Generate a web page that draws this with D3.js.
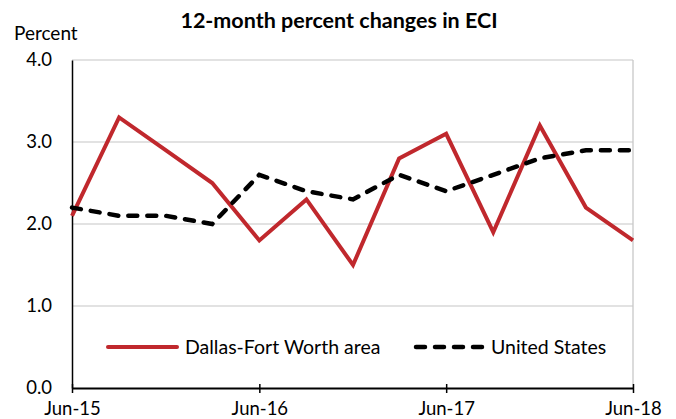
<!DOCTYPE html>
<html>
<head>
<meta charset="utf-8">
<script src="https://cdn.jsdelivr.net/npm/d3@7"></script>
<style>
  body { margin: 0; background: #fff; }
  text { font-family: Lato, "Open Sans", sans-serif; fill: #000; }
</style>
</head>
<body>
<div id="chartDiv"></div>
<script>
var width = 676;
var height = 419;
var margin = { top: 60, right: 43, bottom: 31, left: 72 };

// quarterly, Jun-15 .. Jun-18
var quarters = ["2015-06", "2015-09", "2015-12", "2016-03", "2016-06", "2016-09", "2016-12",
                "2017-03", "2017-06", "2017-09", "2017-12", "2018-03", "2018-06"];
var dallasValues = [2.1, 3.3, 2.9, 2.5, 1.8, 2.3, 1.5, 2.8, 3.1, 1.9, 3.2, 2.2, 1.8];
var usValues     = [2.2, 2.1, 2.1, 2.0, 2.6, 2.4, 2.3, 2.6, 2.4, 2.6, 2.8, 2.9, 2.9];
var xTickLabels = ["2015-06", "2016-06", "2017-06", "2018-06"];
var yTicks = [0, 1, 2, 3, 4];

var seriesNames = ["Dallas-Fort Worth area", "United States"];
var titleText = "12-month percent changes in ECI";
var yAxisLabelHeader = "Percent";

var parseMonth = d3.timeParse("%Y-%m");
var dates = quarters.map(parseMonth);

var chartWidth = width - margin.left - margin.right;
var chartHeight = height - margin.top - margin.bottom;

var x = d3.scaleTime()
    .domain(d3.extent(dates))
    .range([0, chartWidth]);
var y = d3.scaleLinear().domain([0, 4]).range([chartHeight, 0]);

var chart = d3.select("#chartDiv").append("svg")
    .attr("width", width)
    .attr("height", height);

var plot = chart.append("g")
    .attr("transform", "translate(" + margin.left + "," + margin.top + ")");

// gridlines
plot.selectAll(".grid")
    .data(yTicks.filter(function(d) { return d > 0; }))
    .enter().append("line")
    .attr("class", "grid")
    .attr("x1", 0).attr("x2", chartWidth)
    .attr("y1", function(d) { return y(d); })
    .attr("y2", function(d) { return y(d); })
    .style("stroke", "#d9d9d9")
    .style("stroke-width", 1.3);

// right border
plot.append("line")
    .attr("x1", chartWidth).attr("x2", chartWidth)
    .attr("y1", 0).attr("y2", chartHeight)
    .style("stroke", "#c8c8c8")
    .style("stroke-width", 1.3);

// y axis
var yAxis = d3.axisLeft(y)
    .tickValues(yTicks)
    .tickSize(0)
    .tickPadding(20)
    .tickFormat(d3.format(".1f"));
var yAxisG = plot.append("g").call(yAxis);
yAxisG.select(".domain").style("stroke", "#000").style("stroke-width", 1.5);
yAxisG.selectAll("text").style("font-size", "18.5px").attr("font-family", null);

// x axis
var xAxis = d3.axisBottom(x)
    .tickValues(xTickLabels.map(parseMonth))
    .tickSizeInner(6)
    .tickSizeOuter(0)
    .tickPadding(8)
    .tickFormat(d3.timeFormat("%b-%y"));
var xAxisG = plot.append("g")
    .attr("transform", "translate(0," + chartHeight + ")")
    .call(xAxis);
xAxisG.select(".domain").style("stroke", "#000").style("stroke-width", 2);
xAxisG.selectAll(".tick line")
    .attr("y1", -4)
    .attr("y2", 5)
    .style("stroke", "#000")
    .style("stroke-width", 1.5);
xAxisG.selectAll("text").style("font-size", "18.5px").attr("font-family", null);

// lines
var line = d3.line()
    .x(function(d) { return x(d.date); })
    .y(function(d) { return y(d.value); });

function pairs(values) {
    return values.map(function(v, i) { return { date: dates[i], value: v }; });
}

plot.append("path")
    .datum(pairs(dallasValues))
    .attr("d", line)
    .style("fill", "none")
    .style("stroke", "#c0282d")
    .style("stroke-width", 4)
    .style("stroke-linejoin", "miter");

plot.append("path")
    .datum(pairs(usValues))
    .attr("d", line)
    .style("fill", "none")
    .style("stroke", "#000")
    .style("stroke-width", 4.5)
    .style("stroke-linecap", "round")
    .style("stroke-dasharray", "9,10");

// legend
var legend = chart.append("g");
legend.append("line")
    .attr("x1", 108).attr("x2", 177)
    .attr("y1", 347).attr("y2", 347)
    .style("stroke", "#c0282d")
    .style("stroke-width", 4)
    .style("stroke-linecap", "round");
legend.append("text")
    .attr("x", 185).attr("y", 354)
    .style("font-size", "19.5px")
    .text(seriesNames[0]);
legend.append("line")
    .attr("x1", 416).attr("x2", 485)
    .attr("y1", 347).attr("y2", 347)
    .style("stroke", "#000")
    .style("stroke-width", 4.5)
    .style("stroke-linecap", "round")
    .style("stroke-dasharray", "9,10");
legend.append("text")
    .attr("x", 491).attr("y", 354)
    .style("font-size", "19.5px")
    .text(seriesNames[1]);

// title and y label
chart.append("text")
    .attr("x", 339).attr("y", 28)
    .attr("text-anchor", "middle")
    .style("font-size", "21.5px")
    .style("font-weight", "bold")
    .text(titleText);

chart.append("text")
    .attr("x", 14).attr("y", 40)
    .style("font-size", "19px")
    .text(yAxisLabelHeader);
</script>
</body>
</html>
